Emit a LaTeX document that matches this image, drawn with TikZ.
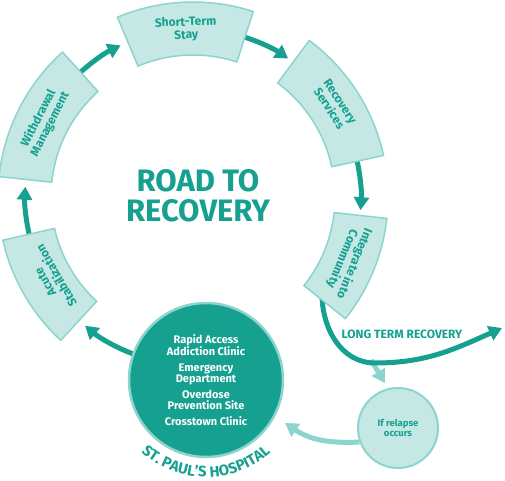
\documentclass[tikz,border=0pt]{standalone}
\usepackage{fontspec}
\setmainfont{Fira Sans}
\usetikzlibrary{arrows.meta,decorations.text}
\definecolor{roadteal}{RGB}{21,160,144}
\definecolor{roadfill}{RGB}{197,232,229}
\definecolor{roadedge}{RGB}{141,211,206}
\begin{document}
\begin{tikzpicture}[x=1pt, y=1pt,
		part/.style={fill=roadfill, draw=roadedge, line width=1.5pt},
		parttext/.style={text=roadteal, font=\bfseries\fontsize{12}{13}\selectfont, align=center},
		flow/.style={draw=roadteal, line width=5pt, -{Triangle[width=15pt, length=13pt]}},
		back/.style={draw=roadedge, line width=5pt, -{Triangle[width=15pt, length=13pt]}}]
	\useasboundingbox (0, 0) rectangle (505, 480);
	\node[circle, minimum size=80pt, fill=roadfill, draw=roadedge, line width=2pt,
		text=roadteal, font=\bfseries\fontsize{9.5}{10.5}\selectfont, align=center] (rel) at (398, 52) {If relapse\\occurs};
	\coordinate (drop) at (371, 120);
	\coordinate (foot) at (322, 186);
	\coordinate (away) at (502, 152);
	\coordinate (reentry) at (285, 57);
	\draw[back] (drop) -- (385, 97);
	\draw[back] (rel.200) to[out=183, in=-34] (reentry);
	\draw[flow] (foot) to[out=-90, in=180] (375, 117) to[out=0, in=204] (away);
	\node[text=roadteal, font=\bfseries\fontsize{12}{12}\selectfont] (ltr) at (402, 146) {LONG TERM RECOVERY};
	\begin{scope}[shift={(193, 283)}]
		\coordinate (s1) at (250:168);
		\coordinate (s2) at (193.5:168);
		\coordinate (s3) at (133:168);
		\coordinate (s4) at (73:168);
		\coordinate (s5) at (13:168);
		\draw[flow] (s1) arc[start angle=250, end angle=230, radius=168];
		\draw[flow] (s2) arc[start angle=193.5, end angle=176.5, radius=168];
		\draw[flow] (s3) arc[start angle=133, end angle=115.5, radius=168];
		\draw[flow] (s4) arc[start angle=73, end angle=55.5, radius=168];
		\draw[flow] (s5) arc[start angle=13, end angle=-4.5, radius=168];
		\foreach \a/\b in {132/174, 72/112.8, 12.3/53.4, -38.6/-6.3, 192.8/227.3}
			\draw[part] (\a:142) -- (\a:195) arc[start angle=\a, end angle=\b, radius=195]
				-- (\b:142) arc[start angle=\b, end angle=\a, radius=142] -- cycle;
		\node[parttext, rotate=63] (wm) at (153:167) {Withdrawal\\Management};
		\node[parttext, rotate=2.4] (sts) at (92.4:168) {Short-Term\\Stay};
		\node[parttext, rotate=-57] (rs) at (33:169) {Recovery\\Services};
		\node[parttext, rotate=-112.5] (ic) at (-22.5:168) {Integrate into\\Community};
		\node[parttext, rotate=120] (as) at (210:164) {Acute\\Stabilization};
	\end{scope}
	\node[circle, minimum size=154pt, fill=roadteal, draw=roadedge, line width=2.5pt, text=white,
		font=\bfseries\fontsize{11}{11}\selectfont, align=center] (sph) at (206, 100)
		{Rapid Access\\Addiction Clinic\\[5pt]Emergency\\Department\\[5pt]Overdose\\Prevention Site\\[5pt]Crosstown Clinic};
	\path[decorate, decoration={text along path, text align=center,
		text={|\bfseries\fontsize{15}{15}\selectfont\color{roadteal}|ST. PAUL’S HOSPITAL}}]
		(sph.center) ++(220:97) arc[start angle=220, end angle=320, radius=97];
	\node[text=roadteal, font=\bfseries\fontsize{31}{30}\selectfont, align=center] (title) at (198, 284) {ROAD TO\\RECOVERY};
\end{tikzpicture}
\end{document}
